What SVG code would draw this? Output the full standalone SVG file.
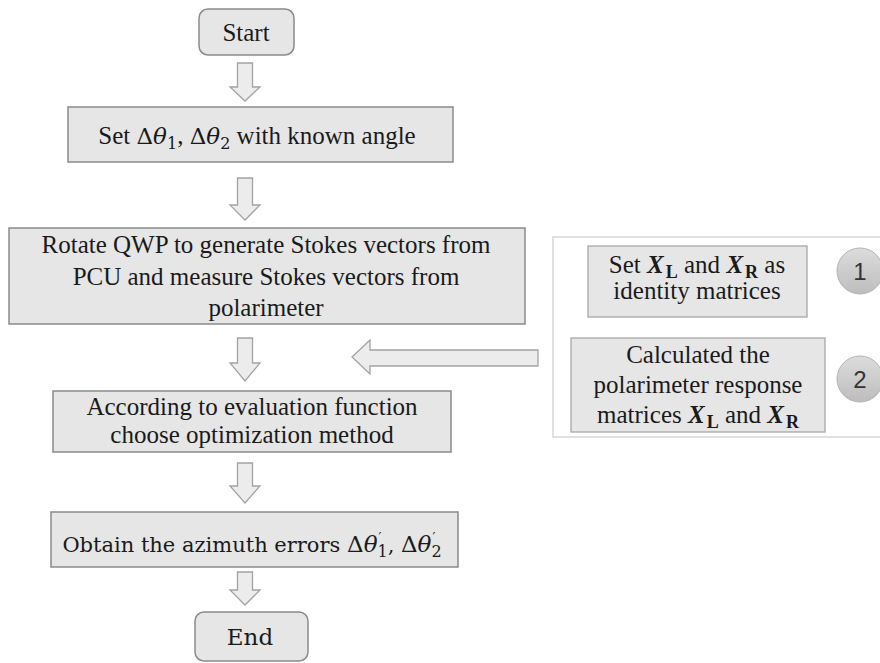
<svg xmlns="http://www.w3.org/2000/svg" width="880" height="663" viewBox="0 0 880 663">
<defs>
<linearGradient id="cg" x1="0" y1="0" x2="0" y2="1">
<stop offset="0" stop-color="#dcdcdc"/>
<stop offset="1" stop-color="#bdbdbd"/>
</linearGradient>
<style>
.box{fill:#e6e6e6;stroke:#8a8a8a;stroke-width:1.5}
.pbox{fill:#e6e6e6;stroke:#a8a8a8;stroke-width:1.3}
.panel{fill:#ffffff;stroke:#d6d6d6;stroke-width:1.5}
.arr{fill:#ececec;stroke:#a3a3a3;stroke-width:1.3;stroke-linejoin:miter}
.circ{fill:url(#cg);stroke:#b3b3b3;stroke-width:1}
.t{font-family:'Liberation Serif','Times New Roman',serif;font-size:25px;fill:#1a1a1a}
.e{font-family:'DejaVu Serif',serif;font-size:23px;fill:#1a1a1a}
.o{font-family:'DejaVu Serif',serif;font-size:21px;fill:#1a1a1a}
.m{font-family:'DejaVu Serif',serif;font-size:23px;font-style:normal}
.mi{font-family:'DejaVu Serif',serif;font-size:23px;font-style:italic}
.sb{font-family:'DejaVu Serif',serif;font-size:16px;font-style:normal}
.pr{font-family:'DejaVu Serif',serif;font-size:13px;font-style:normal}
.X{font-family:'Liberation Serif',serif;font-weight:bold;font-style:italic}
.XS{font-family:'Liberation Serif',serif;font-weight:bold;font-style:normal;font-size:18px}
.n{font-family:'Liberation Sans',Arial,sans-serif;font-size:24px;fill:#333333}
</style>
</defs>

<g id="connectors">
<polygon class="arr" points="237.5,63 252.5,63 252.5,87 260,87 245,101 230,87 237.5,87"/>
<polygon class="arr" points="237.5,178 252.5,178 252.5,205 260,205 245,220 230,205 237.5,205"/>
<polygon class="arr" points="237.5,338 252.5,338 252.5,363 260,363 245,381 230,363 237.5,363"/>
<polygon class="arr" points="237.5,463 252.5,463 252.5,486 260,486 245,503 230,486 237.5,486"/>
<polygon class="arr" points="237.5,572 252.5,572 252.5,590 260,590 245,605 230,590 237.5,590"/>
<polygon class="arr" points="538,350 370,350 370,340 352,357 370,374 370,366 538,366"/>
</g>

<g id="start">
<rect class="box" x="199" y="9" width="95" height="46" rx="9"/>
<text class="t" x="246" y="41" text-anchor="middle">Start</text>
</g>

<g id="set-angle">
<rect class="box" x="68" y="107" width="385" height="55"/>
<text class="t" x="257" y="144" text-anchor="middle">Set <tspan class="m">Δ</tspan><tspan class="mi">θ</tspan><tspan class="sb" dy="5">1</tspan><tspan dy="-5">, </tspan><tspan class="m">Δ</tspan><tspan class="mi">θ</tspan><tspan class="sb" dy="5">2</tspan><tspan dy="-5"> with known angle</tspan></text>
</g>

<g id="rotate">
<rect class="box" x="9" y="228" width="516" height="96"/>
<text class="t" x="266" y="253" text-anchor="middle">Rotate QWP to generate Stokes vectors  from</text>
<text class="t" x="266" y="285" text-anchor="middle">PCU and measure Stokes vectors from</text>
<text class="t" x="266" y="316" text-anchor="middle">polarimeter</text>
</g>

<g id="evaluate">
<rect class="box" x="53" y="391" width="398" height="61"/>
<text class="t" x="252" y="415" text-anchor="middle">According to evaluation function</text>
<text class="t" x="252" y="443" text-anchor="middle">choose optimization method</text>
</g>

<g id="obtain">
<rect class="box" x="51" y="512" width="407" height="55"/>
<text class="o" x="252" y="552" text-anchor="middle">Obtain the azimuth errors <tspan class="m">Δ</tspan><tspan class="mi">θ</tspan><tspan class="pr" dx="1" dy="-10">′</tspan><tspan class="sb" dx="-4" dy="15">1</tspan><tspan dy="-5">, </tspan><tspan class="m">Δ</tspan><tspan class="mi">θ</tspan><tspan class="pr" dx="1" dy="-10">′</tspan><tspan class="sb" dx="-4" dy="15">2</tspan></text>
</g>

<g id="end">
<rect class="box" x="195" y="612" width="113" height="49" rx="9"/>
<text class="e" x="250" y="645" text-anchor="middle">End</text>
</g>

<g id="panel">
<rect class="panel" x="553" y="237" width="340" height="200"/>
</g>

<g id="step1">
<rect class="pbox" x="588" y="246" width="219" height="71"/>
<text class="t" x="697" y="273" text-anchor="middle">Set <tspan class="X">X</tspan><tspan class="XS" dx="2" dy="5">L</tspan><tspan dy="-5"> and </tspan><tspan class="X">X</tspan><tspan class="XS" dx="2" dy="5">R</tspan><tspan dy="-5"> as</tspan></text>
<text class="t" x="697" y="299" text-anchor="middle">identity matrices</text>
</g>

<g id="badge1">
<circle class="circ" cx="860" cy="271" r="23"/>
<text class="n" x="860" y="280" text-anchor="middle">1</text>
</g>

<g id="step2">
<rect class="pbox" x="571" y="338" width="254" height="94"/>
<text class="t" x="698" y="363" text-anchor="middle">Calculated the</text>
<text class="t" x="698" y="393" text-anchor="middle">polarimeter response</text>
<text class="t" x="698" y="423" text-anchor="middle">matrices <tspan class="X">X</tspan><tspan class="XS" dx="2" dy="5">L</tspan><tspan dy="-5"> and </tspan><tspan class="X">X</tspan><tspan class="XS" dx="2" dy="5">R</tspan></text>
</g>

<g id="badge2">
<circle class="circ" cx="860" cy="379" r="23"/>
<text class="n" x="860" y="388" text-anchor="middle">2</text>
</g>
</svg>
